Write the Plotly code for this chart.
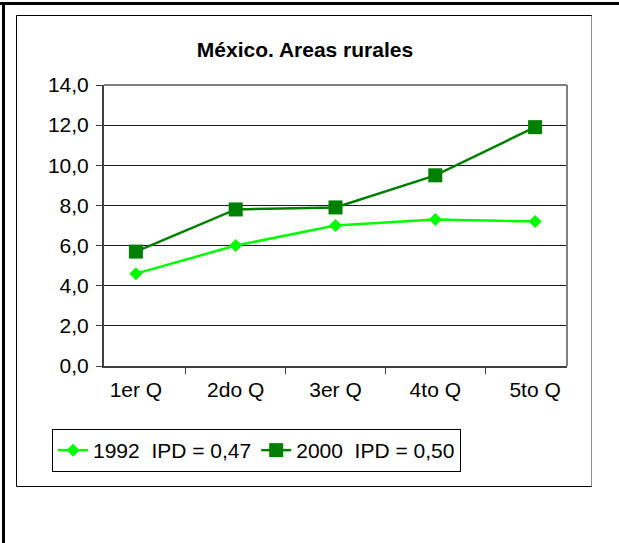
import plotly.graph_objects as go

# Quintiles and series values
categories = ["1er Q", "2do Q", "3er Q", "4to Q", "5to Q"]
values_1992 = [4.6, 6.0, 7.0, 7.3, 7.2]
values_2000 = [5.7, 7.8, 7.9, 9.5, 11.9]
name_1992 = "1992\u00a0\u00a0IPD = 0,47"
name_2000 = "2000\u00a0\u00a0IPD = 0,50"
title_text = "México. Areas rurales"

W, H = 619, 543
L, R, T, B = 104, 52, 85, 177
PW, PH = W - L - R, H - T - B


def px(x):
    return (x - L) / PW


def py(y):
    return (H - B - y) / PH


FONT = "Arial, Liberation Sans, sans-serif"

fig = go.Figure()
fig.add_trace(go.Scatter(
    x=categories, y=values_1992, name=name_1992, mode="lines+markers",
    line=dict(color="#00FF00", width=2.5),
    marker=dict(symbol="diamond", size=10, color="#00FF00", line=dict(width=0)),
))
fig.add_trace(go.Scatter(
    x=categories, y=values_2000, name=name_2000, mode="lines+markers",
    line=dict(color="#008000", width=2.5),
    marker=dict(symbol="square", size=14, color="#008000", line=dict(width=0)),
))

shapes = [
    # outer frame (top and left edges)
    dict(type="line", xref="paper", yref="paper", x0=px(0), x1=px(W), y0=py(3.5), y1=py(3.5),
         line=dict(color="black", width=3)),
    dict(type="line", xref="paper", yref="paper", x0=px(3.5), x1=px(3.5), y0=py(2), y1=py(H),
         line=dict(color="black", width=3)),
    # chart box
    dict(type="rect", xref="paper", yref="paper", x0=px(16.5), x1=px(591.5), y0=py(15.5), y1=py(486.5),
         line=dict(color="black", width=1)),
    dict(type="line", xref="paper", yref="paper", x0=px(591.5), x1=px(591.5), y0=py(16), y1=py(486),
         line=dict(color="#909090", width=1)),
    # plot area border (top and right)
    dict(type="line", xref="paper", yref="paper", x0=0, x1=1, y0=1, y1=1,
         line=dict(color="#808080", width=2)),
    dict(type="line", xref="paper", yref="paper", x0=1, x1=1, y0=0, y1=1,
         line=dict(color="#808080", width=2)),
]

fig.update_layout(
    width=W, height=H,
    margin=dict(l=L, r=R, t=T, b=B, pad=0),
    paper_bgcolor="white", plot_bgcolor="white",
    separators=",.",
    font=dict(family=FONT, size=21, color="black"),
    title=dict(text=title_text, x=px(305), xref="paper", xanchor="center",
               y=1 - 50 / H, yref="container", yanchor="middle",
               font=dict(family=FONT, size=21, weight="bold", color="black")),
    xaxis=dict(type="category", showgrid=False, zeroline=False,
               showline=True, linecolor="#404040", linewidth=2,
               ticks="outside", tickson="boundaries", ticklen=6, tickwidth=1, tickcolor="#404040",
               tickfont=dict(size=21), ticklabelstandoff=4),
    yaxis=dict(range=[0, 14], dtick=2, tick0=0, tickformat=".1f",
               showgrid=True, gridcolor="#1a1a1a", gridwidth=1, zeroline=False,
               showline=True, linecolor="#404040", linewidth=2,
               ticks="outside", ticklen=6, tickwidth=1, tickcolor="#404040",
               tickfont=dict(size=21), ticklabelstandoff=3),
    legend=dict(orientation="h", x=px(52), xanchor="left", y=py(429), yanchor="top",
                bordercolor="black", borderwidth=1, bgcolor="white",
                font=dict(family=FONT, size=21), itemwidth=30),
    shapes=shapes,
    showlegend=True,
)

fig.write_html("out.html")
